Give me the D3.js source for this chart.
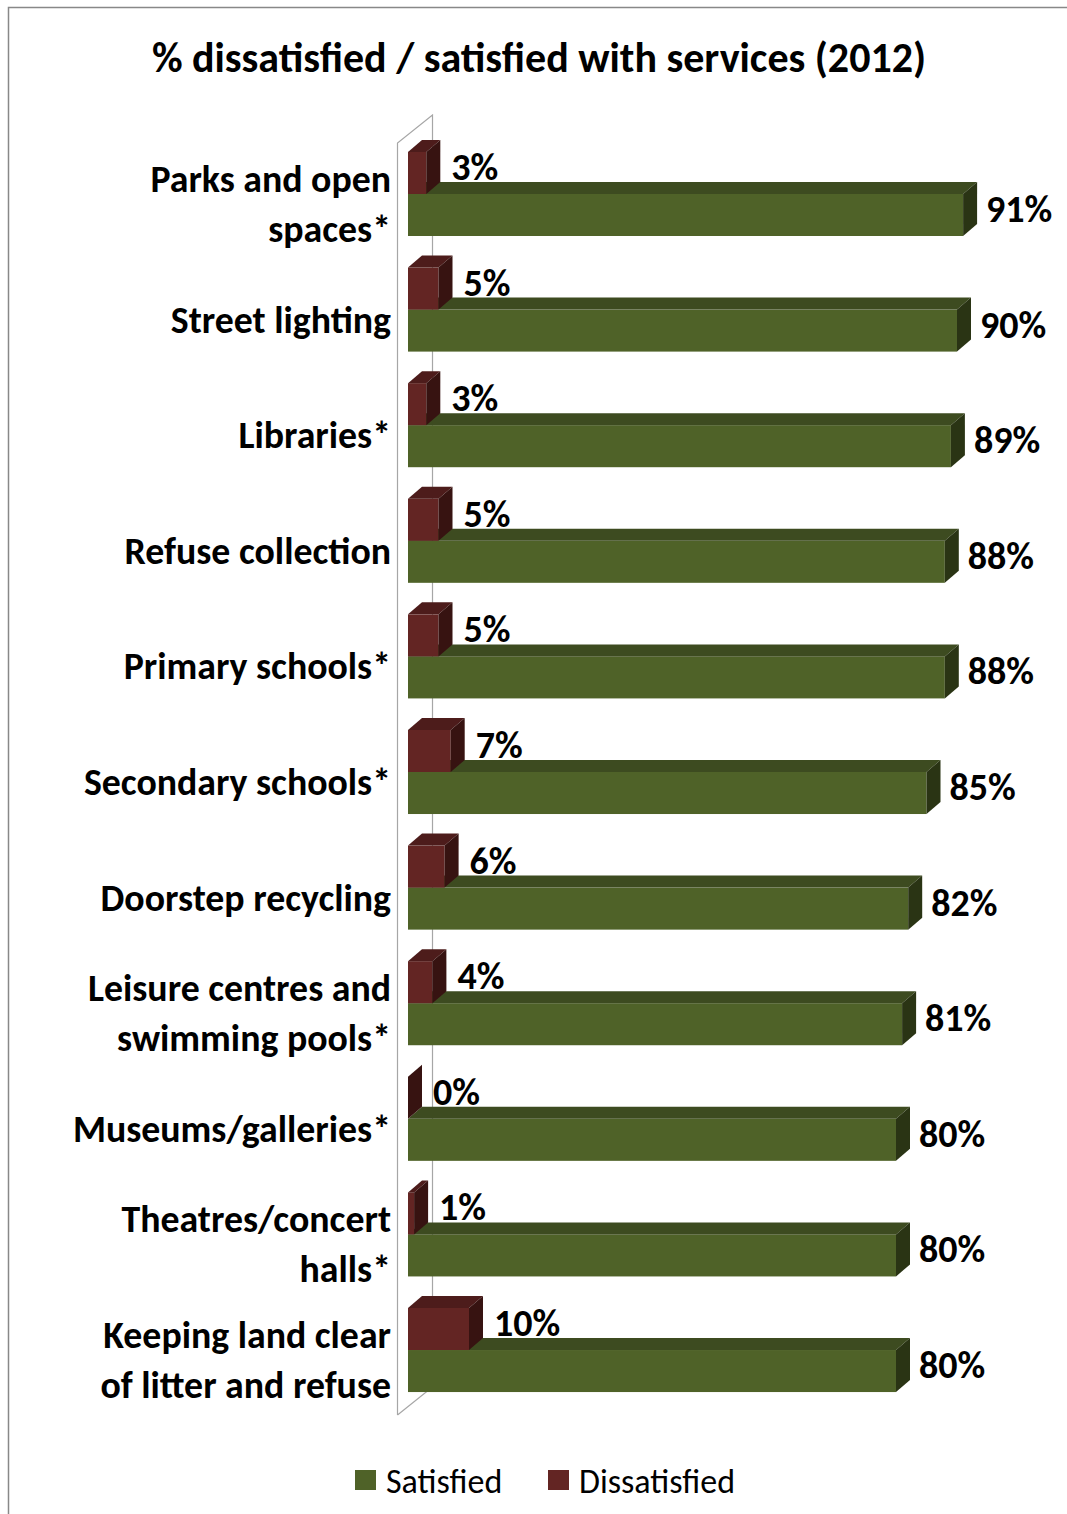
<!DOCTYPE html>
<html>
<head>
<meta charset="utf-8">
<script src="https://cdn.jsdelivr.net/npm/d3@7"></script>
<style>
  html, body { margin: 0; padding: 0; background: #fff; }
  svg { display: block; }
  text { font-family: Carlito, Calibri, Lato, "Open Sans", sans-serif; fill: #000; }
</style>
</head>
<body>
<svg id="chart" width="1067" height="1514"></svg>
<script>
// Services, top to bottom ("\n" marks where a label wraps)
const categories = [
  "Parks and open\nspaces*",
  "Street lighting",
  "Libraries*",
  "Refuse collection",
  "Primary schools*",
  "Secondary schools*",
  "Doorstep recycling",
  "Leisure centres and\nswimming pools*",
  "Museums/galleries*",
  "Theatres/concert\nhalls*",
  "Keeping land clear\nof litter and refuse"
];
const satisfied    = [91, 90, 89, 88, 88, 85, 82, 81, 80, 80, 80];
const dissatisfied = [3, 5, 3, 5, 5, 7, 6, 4, 0, 1, 10];
const seriesNames  = ["Satisfied", "Dissatisfied"];
const titleText    = "% dissatisfied / satisfied with services (2012)";

const W = 1067, H = 1514;
const svg = d3.select("#chart");

// Chart frame
svg.append("rect")
  .attr("x", 8.5).attr("y", 7.5)
  .attr("width", W + 20).attr("height", H + 20)
  .attr("fill", "#fff").attr("stroke", "#888").attr("stroke-width", 1.5);

// Title
svg.append("text")
  .attr("x", 539).attr("y", 57)
  .attr("text-anchor", "middle").attr("dominant-baseline", "central")
  .attr("font-weight", "bold").attr("font-size", 42)
  .text(titleText);

// Scales
const x = d3.scaleLinear().domain([0, 100]).range([408, 1018]);
const y = d3.scaleBand().domain(categories).range([136, 1408])
  .paddingInner(0.273).paddingOuter(0.138);
const sub = d3.scaleBand().domain(["Dissatisfied", "Satisfied"]).range([0, y.bandwidth()]);

// 3D depth offset of the bars and of the side wall
const DX = 14, DY = -12;
const WDX = 35, WDY = -28;

const palette = {
  Satisfied:    { front: "#4f6228", top: "#3d4b20", side: "#2a3414" },
  Dissatisfied: { front: "#632523", top: "#4d1c1b", side: "#371311" }
};

// Side wall (left edge of the 3D plot area)
const wall = svg.append("g").attr("fill", "none").attr("stroke", "#a6a6a6").attr("stroke-width", 1.2);
const wx = 397.5, wTop = 143, wBot = 1415;
wall.append("path").attr("d", d3.line()([[wx, wBot], [wx, wTop], [wx + WDX, wTop + WDY], [wx + WDX, wBot + WDY], [wx, wBot]]));

// 3D bar drawing
function bar3d(g, x0, x1, yTop, h, col) {
  const line = d3.line();
  g.append("rect")
    .attr("x", x0).attr("y", yTop).attr("width", Math.max(0, x1 - x0)).attr("height", h)
    .attr("fill", col.front);
  g.append("path")
    .attr("d", line([[x0, yTop], [x0 + DX, yTop + DY], [x1 + DX, yTop + DY], [x1, yTop]]) + "Z")
    .attr("fill", col.top);
  g.append("path")
    .attr("d", line([[x1, yTop], [x1 + DX, yTop + DY], [x1 + DX, yTop + h + DY], [x1, yTop + h]]) + "Z")
    .attr("fill", col.side);
}

const bars = svg.append("g");
categories.forEach((c, i) => {
  const g = bars.append("g");
  const yS = y(c) + sub("Satisfied"), yD = y(c) + sub("Dissatisfied");
  const h = sub.bandwidth();
  bar3d(g, x(0), x(satisfied[i]), yS, h, palette.Satisfied);
  bar3d(g, x(0), x(dissatisfied[i]), yD, h, palette.Dissatisfied);
});

// Value labels
const labels = svg.append("g").attr("font-weight", "bold").attr("font-size", 38);
categories.forEach((c, i) => {
  const h = sub.bandwidth();
  labels.append("text")
    .attr("x", x(satisfied[i]) + DX + 9)
    .attr("y", y(c) + sub("Satisfied") + h / 2 + DY / 2)
    .attr("dominant-baseline", "central")
    .text(satisfied[i] + "%");
  labels.append("text")
    .attr("x", x(dissatisfied[i]) + DX + 11)
    .attr("y", y(c) + sub("Dissatisfied") + h / 2 + DY / 2)
    .attr("dominant-baseline", "central")
    .text(dissatisfied[i] + "%");
});

// Category axis
const axis = svg.append("g")
  .attr("transform", "translate(391,10)")
  .call(d3.axisLeft(y).tickSize(0).tickPadding(0));
axis.select(".domain").remove();
axis.selectAll(".tick text")
  .attr("font-family", null)
  .attr("font-size", 37.8)
  .attr("font-weight", "bold")
  .attr("fill", "#000")
  .attr("dy", null)
  .each(function(d) {
    const lines = d.split("\n");
    const t = d3.select(this).text(null).attr("dominant-baseline", "central");
    const lh = 50;
    lines.forEach((ln, k) => {
      t.append("tspan")
        .attr("x", 0)
        .attr("y", (k - (lines.length - 1) / 2) * lh)
        .text(ln);
    });
  });

// Legend
const legend = svg.append("g").attr("font-size", 34);
const legendX = [355, 548];
seriesNames.forEach((s, i) => {
  legend.append("rect")
    .attr("x", legendX[i]).attr("y", 1470).attr("width", 21).attr("height", 20)
    .attr("fill", palette[s].front);
  legend.append("text")
    .attr("x", legendX[i] + 31).attr("y", 1481)
    .attr("dominant-baseline", "central")
    .text(s);
});
</script>
</body>
</html>
